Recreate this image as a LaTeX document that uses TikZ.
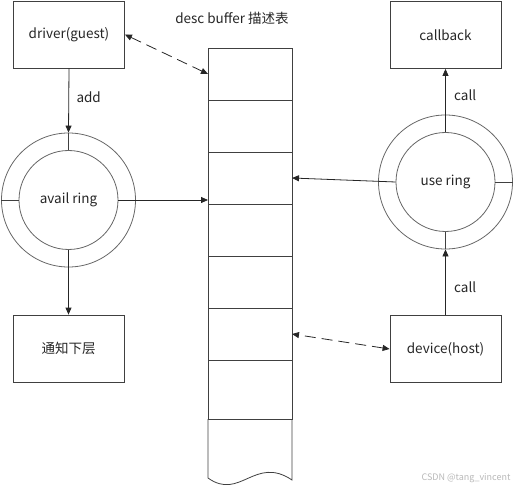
\documentclass[tikz,border=0pt]{standalone}
\usepackage{fontspec}
\setmainfont{Noto Sans CJK SC}
\usetikzlibrary{arrows.meta,positioning}

\begin{document}
\begin{tikzpicture}[
  x=1pt, y=-1pt,
  font=\fontsize{13.5}{16}\selectfont, text=black!85,
  pbox/.style={draw=black!75, line width=0.8pt, minimum width=111pt, minimum height=67pt, inner sep=0pt},
  pring/.style={circle, draw=black!60, line width=0.8pt, minimum size=134pt, inner sep=0pt},
  pringin/.style={circle, draw=black!60, line width=0.8pt, minimum size=99pt, inner sep=0pt},
  pcell/.style={draw=black!75, line width=0.8pt, minimum width=84pt, minimum height=52pt, inner sep=0pt, outer sep=0pt},
  pline/.style={line width=0.8pt, draw=black!75},
  arrow/.style={-{Triangle[length=7pt,width=6pt]}, line width=0.8pt, draw=black!85},
  darrow/.style={{Triangle[length=7pt,width=6pt]}-{Triangle[length=7pt,width=6pt]}, dash pattern=on 11pt off 6pt, line width=0.8pt, draw=black!85}
]
  \useasboundingbox (0,0) rectangle (514,489);

  % --- desc buffer table ---
  \node (title) at (232,18) {desc buffer 描述表};
  \node[pcell] (d1) at (250,74) {};
  \node[pcell, below=0pt of d1] (d2) {};
  \node[pcell, below=0pt of d2] (d3) {};
  \node[pcell, below=0pt of d3] (d4) {};
  \node[pcell, below=0pt of d4] (d5) {};
  \node[pcell, below=0pt of d5] (d6) {};
  \node[pcell, below=0pt of d6, minimum height=59pt] (d7) {};
  \draw[pline] (d7.south west) -- (208,478)
    .. controls (240,501) and (255,455) .. (292,480) -- (d7.south east);

  % --- guest side ---
  \node[pbox] (driver) at (69,34.5) {driver(guest)};
  \node[pring] (avail) at (68.5,200) {};
  \node[pringin] (availin) at (avail) {avail ring};
  \node[pbox] (notify) at (68.5,348.5) {通知下层};
  \draw[arrow] (driver.south) -- (avail.north) node[pos=0.45, right=4pt] {add};
  \draw[pline] (avail.north) -- (availin.north);
  \draw[pline] (avail.west) -- (availin.west);
  \draw[arrow] (availin.east) -- (availin.east -| d3.west);
  \draw[arrow] (availin.south) -- (notify.north);
  \draw[darrow] (driver.east) -- (d1.west);

  % --- host side ---
  \node[pbox] (callback) at (445.5,35) {callback};
  \node[pring] (use) at (445.5,182) {};
  \node[pringin] (usein) at (use) {use ring};
  \node[pbox] (device) at (445.5,349) {device(host)};
  \draw[arrow] (usein.north) -- (callback.south) node[pos=0.58, right=5pt] {call};
  \draw[pline] (use.east) -- (usein.east);
  \draw[arrow] (usein.west) -- (d3.east);
  \draw[arrow] (device.north) -- (use.south) node[pos=0.43, right=5pt] {call};
  \draw[pline] (use.south) -- (usein.south);
  \draw[darrow] (device.west) -- (d6.east);

  \node[font=\fontsize{9}{10}\selectfont, text=black!28] (mark) at (466,478) {CSDN @tang\_vincent};
\end{tikzpicture}
\end{document}
